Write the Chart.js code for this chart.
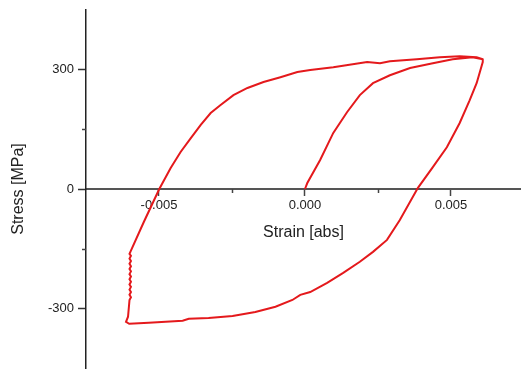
<!DOCTYPE html>
<html>
<head>
<meta charset="utf-8">
<script src="https://cdn.jsdelivr.net/npm/chart.js@4/dist/chart.umd.min.js"></script>
<style>
    html, body { margin: 0; padding: 0; background: #fff; overflow: hidden; }
    #wrap { width: 521px; height: 371px; }
</style>
</head>
<body>
<div id="wrap"><canvas id="myChart"></canvas></div>
<script>
// hysteresis loop: initial loading, unloading, reversed loading back to the tip
const strain = [
    // initial loading
    0.00000, 0.00008, 0.00052, 0.00097, 0.00144, 0.00188, 0.00233, 0.00291, 0.00360, 0.00438,
    0.00506, 0.00574, 0.00609,
    // unloading into compression
    0.00609, 0.00588, 0.00564, 0.00530, 0.00486, 0.00438, 0.00387, 0.00325, 0.00281, 0.00233,
    0.00188, 0.00131, 0.00076, 0.00018, -0.00016, -0.00043, -0.00101, -0.00170, -0.00248, -0.00330,
    -0.00398, -0.00419, -0.00535, -0.00602, -0.00613, -0.00606,
    // noisy reversal
    -0.00601, -0.00596, -0.00601, -0.00596, -0.00601, -0.00596, -0.00601, -0.00596, -0.00601, -0.00596,
    -0.00601, -0.00596, -0.00601, -0.00596, -0.00601, -0.00596, -0.00601, -0.00596, -0.00601, -0.00598,
    // reloading
    -0.00552, -0.00499, -0.00460, -0.00426, -0.00391, -0.00357, -0.00323, -0.00289, -0.00245, -0.00197,
    -0.00142, -0.00084, -0.00026, 0.00018, 0.00097, 0.00213, 0.00257, 0.00291, 0.00383, 0.00462,
    0.00530, 0.00588, 0.00609
];
const stress = [
    0, 15, 73, 141, 193, 236, 266, 286, 304, 316,
    326, 331, 326,
    319, 266, 223, 166, 105, 55, 3, -78, -128, -158,
    -183, -211, -236, -259, -266, -279, -296, -309, -319, -324,
    -326, -331, -336, -339, -334, -321,
    -279, -272, -266, -259, -253, -246, -240, -233, -227, -220,
    -214, -207, -201, -194, -188, -181, -175, -168, -163, -158,
    -83, 0, 53, 93, 128, 161, 191, 211, 236, 254,
    269, 281, 294, 299, 306, 319, 316, 321, 326, 331,
    334, 331, 326
];

const xTicks = [-0.005, 0, 0.005];
const xMinorTicks = [-0.0025, 0.0025];
const yTicks = [-300, 0, 300];
const yMinorTicks = [-150, 150];

const points = strain.map((s, i) => ({ x: s, y: stress[i] }));

const FONT = '"Liberation Sans", Arial, sans-serif';

// short ticks between the labelled ones
const minorTicks = {
    id: 'minorTicks',
    afterDraw(chart) {
        const { ctx, scales } = chart;
        const xs = scales.x, ys = scales.y;
        ctx.save();
        ctx.lineWidth = 1.5;
        ctx.strokeStyle = '#444';
        const y0 = ys.getPixelForValue(0);
        xMinorTicks.forEach(v => {
            const px = Math.round(xs.getPixelForValue(v)) + 0.5;
            ctx.beginPath();
            ctx.moveTo(px, y0);
            ctx.lineTo(px, y0 + 4);
            ctx.stroke();
        });
        yMinorTicks.forEach(v => {
            const py = Math.round(ys.getPixelForValue(v)) + 0.5;
            ctx.beginPath();
            ctx.moveTo(xs.left, py);
            ctx.lineTo(xs.left - 4, py);
            ctx.stroke();
        });
        ctx.restore();
    }
};

new Chart(document.getElementById('myChart'), {
    type: 'scatter',
    data: {
        datasets: [{
            data: points,
            showLine: true,
            borderColor: '#e4191c',
            borderWidth: 2,
            pointRadius: 0,
            tension: 0,
            fill: false
        }]
    },
    options: {
        responsive: true,
        maintainAspectRatio: false,
        animation: false,
        layout: { padding: { top: 10, bottom: 3, left: 0, right: 0 } },
        plugins: { legend: { display: false }, tooltip: { enabled: false } },
        scales: {
            x: {
                type: 'linear',
                position: { y: 0 },
                min: -0.0075,
                max: 0.0074,
                afterBuildTicks: scale => { scale.ticks = xTicks.map(v => ({ value: v })); },
                border: { display: true, color: '#555', width: 2 },
                grid: { drawOnChartArea: false, drawTicks: true, tickLength: 6, tickColor: '#444', tickWidth: 1.5 },
                ticks: {
                    padding: 3,
                    color: '#222',
                    font: { family: FONT, size: 13 },
                    maxRotation: 0,
                    callback: v => Number(v).toFixed(3)
                },
                title: {
                    display: true,
                    text: 'Strain [abs]',
                    color: '#222',
                    font: { family: FONT, size: 16 },
                    padding: { top: 6, bottom: 0 }
                }
            },
            y: {
                type: 'linear',
                position: 'left',
                min: -450,
                max: 450,
                afterBuildTicks: scale => { scale.ticks = yTicks.map(v => ({ value: v })); },
                afterFit: scale => {
                    scale.width = 86;
                    scale.paddingTop = 0;
                    scale.paddingBottom = 0;
                },
                border: { display: true, color: '#222', width: 1.5 },
                grid: { drawOnChartArea: false, drawTicks: true, tickLength: 8, tickColor: '#333', tickWidth: 1.5 },
                ticks: {
                    padding: 4,
                    color: '#222',
                    font: { family: FONT, size: 13 }
                },
                title: {
                    display: true,
                    text: 'Stress [MPa]',
                    color: '#222',
                    font: { family: FONT, size: 16 },
                    padding: { top: 9, bottom: 0 }
                }
            }
        }
    },
    plugins: [minorTicks]
});
</script>
</body>
</html>
